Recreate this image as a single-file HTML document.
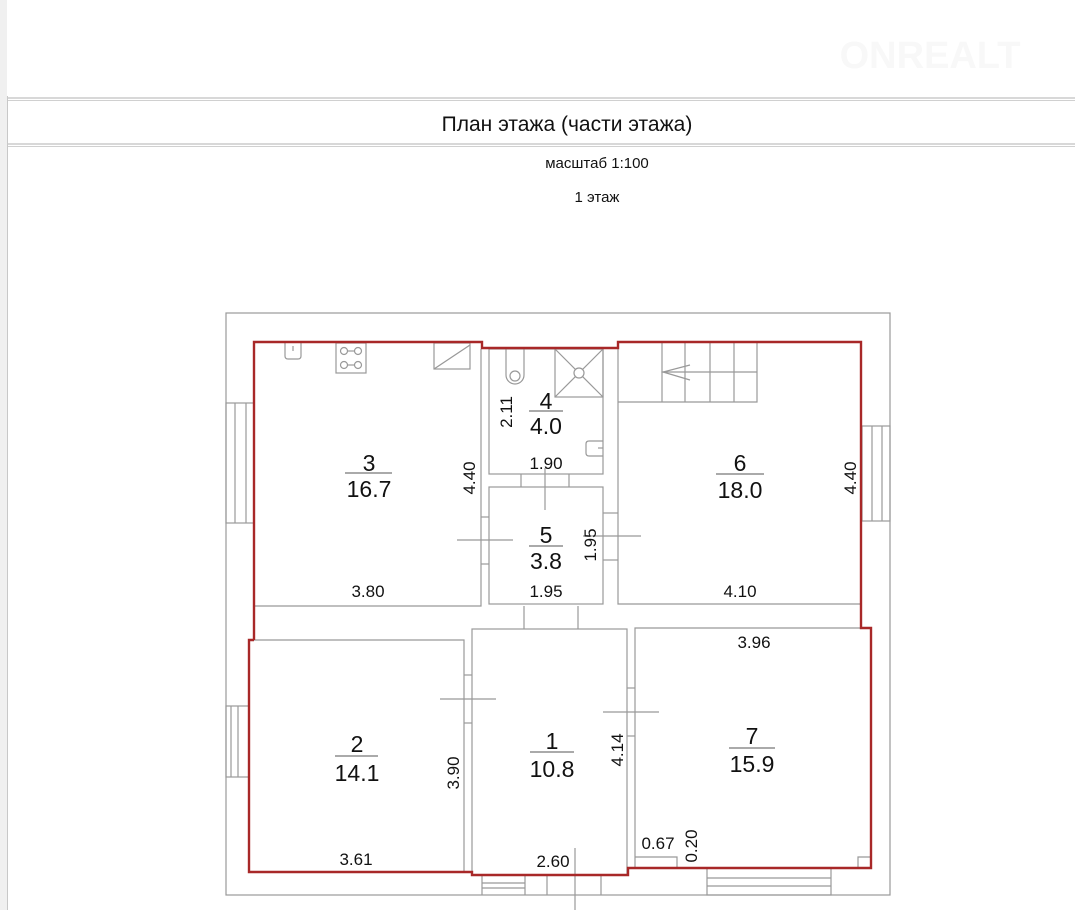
<!DOCTYPE html>
<html><head><meta charset="utf-8"><style>
html,body{margin:0;padding:0;background:#fff;}
svg{display:block;font-family:"Liberation Sans",Arial,sans-serif;}
</style></head><body>
<svg width="1075" height="910" viewBox="0 0 1075 910" xmlns="http://www.w3.org/2000/svg">
<rect x="0" y="0" width="7" height="910" fill="#f0f0f0"/>
<line x1="7.5" y1="96" x2="7.5" y2="910" stroke="#c8c8c8" stroke-width="1"/>
<g stroke="#b0b0b0" stroke-width="1">
<line x1="8" y1="98" x2="1075" y2="98"/><line x1="8" y1="100.5" x2="1075" y2="100.5" stroke="#d0d0d0"/>
<line x1="8" y1="144" x2="1075" y2="144"/><line x1="8" y1="146.5" x2="1075" y2="146.5" stroke="#d0d0d0"/>
</g>
<text x="567" y="131" font-size="21" text-anchor="middle" fill="#111">План этажа (части этажа)</text>
<text x="597" y="168" font-size="15" text-anchor="middle" fill="#111">масштаб 1:100</text>
<text x="597" y="202" font-size="15" text-anchor="middle" fill="#111">1 этаж</text>
<text x="930" y="68" font-size="38" font-weight="bold" text-anchor="middle" fill="#f8f8f8">ONREALT</text>

<g fill="none" stroke="#999" stroke-width="1.2">
<rect x="226" y="313" width="664" height="582"/>
<polyline points="255,606 481,606 481,349"/>
<rect x="489" y="349" width="114" height="125"/>
<rect x="489" y="487" width="114" height="117"/>
<polyline points="618,343 618,604 861,604"/>
<polyline points="249,640 464,640 464,872"/>
<rect x="472" y="629" width="155" height="246"/>
<polyline points="635,868 635,628 871,628"/>
<line x1="524" y1="606" x2="524" y2="629"/><line x1="578" y1="606" x2="578" y2="629"/>
<line x1="521" y1="474" x2="521" y2="487"/><line x1="569" y1="474" x2="569" y2="487"/>
<line x1="481" y1="517" x2="489" y2="517"/><line x1="481" y1="564" x2="489" y2="564"/>
<line x1="603" y1="513" x2="618" y2="513"/><line x1="603" y1="560" x2="618" y2="560"/>
<line x1="464" y1="675" x2="472" y2="675"/><line x1="464" y1="723" x2="472" y2="723"/>
<line x1="627" y1="688" x2="635" y2="688"/><line x1="627" y1="736" x2="635" y2="736"/>
<line x1="457" y1="540" x2="513" y2="540"/><line x1="545" y1="468" x2="545" y2="510"/>
<line x1="583" y1="536" x2="641" y2="536"/>
<line x1="440" y1="699" x2="496" y2="699"/>
<line x1="603" y1="712" x2="659" y2="712"/>
<line x1="575" y1="848" x2="575" y2="910"/>
<rect x="226" y="403" width="28" height="120"/><line x1="235" y1="403" x2="235" y2="523"/><line x1="246" y1="403" x2="246" y2="523"/>
<rect x="226" y="706" width="23" height="71"/><line x1="231" y1="706" x2="231" y2="777"/><line x1="238" y1="706" x2="238" y2="777"/>
<rect x="862" y="426" width="28" height="95"/><line x1="872" y1="426" x2="872" y2="521"/><line x1="882" y1="426" x2="882" y2="521"/>
<line x1="482" y1="875" x2="482" y2="895"/><line x1="525" y1="875" x2="525" y2="895"/>
<line x1="482" y1="883" x2="525" y2="883"/><line x1="482" y1="888" x2="525" y2="888"/>
<line x1="547" y1="875" x2="547" y2="895"/><line x1="601" y1="875" x2="601" y2="895"/>
<rect x="707" y="868" width="124" height="27"/><line x1="707" y1="878" x2="831" y2="878"/><line x1="707" y1="886" x2="831" y2="886"/>
<path d="M285,343 V356 Q285,359 288,359 H298 Q301,359 301,356 V343"/><line x1="293" y1="346" x2="293" y2="351"/>
<rect x="336" y="343" width="30" height="30"/>
<circle cx="344" cy="351" r="3.5"/><circle cx="358" cy="351" r="3.5"/><circle cx="344" cy="365" r="3.5"/><circle cx="358" cy="365" r="3.5"/>
<line x1="347" y1="351" x2="355" y2="351"/><line x1="347" y1="365" x2="355" y2="365"/>
<rect x="434" y="343" width="36" height="26"/><line x1="434" y1="369" x2="470" y2="345"/>
<path d="M506,349 V375 A9,9 0 0 0 524,375 V349"/><circle cx="515" cy="376" r="5"/>
<rect x="555" y="349" width="48" height="48"/><line x1="555" y1="349" x2="603" y2="397"/><line x1="603" y1="349" x2="555" y2="397"/><circle cx="579" cy="373" r="5" fill="#fff"/>
<path d="M603,441 H589 Q586,441 586,444 V453 Q586,456 589,456 H603"/><line x1="598" y1="448" x2="603" y2="448"/>
<polyline points="618,402 757,402 757,343"/>
<line x1="662" y1="343" x2="662" y2="402"/><line x1="685" y1="343" x2="685" y2="402"/>
<line x1="710" y1="343" x2="710" y2="402"/><line x1="734" y1="343" x2="734" y2="402"/>
<line x1="662" y1="372" x2="757" y2="372"/>
<polyline points="690,365 663,372 690,380"/>
<polyline points="635,857 677,857 677,868"/>
<polyline points="858,868 858,857 871,857"/>
</g>
<polyline fill="none" stroke="#a82828" stroke-width="2.4" points="254,640 254,342 482,342 482,348 618,348 618,342 861,342 861,628 871,628 871,868 628,868 628,875 472,875 472,872 249,872 249,640 254,640"/>

<g fill="#111" text-anchor="middle" font-size="23">
<text x="369" y="471">3</text><text x="369" y="497">16.7</text>
<text x="546" y="409">4</text><text x="546" y="434">4.0</text>
<text x="546" y="543">5</text><text x="546" y="569">3.8</text>
<text x="740" y="471">6</text><text x="740" y="498">18.0</text>
<text x="357" y="752">2</text><text x="357" y="781">14.1</text>
<text x="552" y="749">1</text><text x="552" y="777">10.8</text>
<text x="752" y="744">7</text><text x="752" y="772">15.9</text>
</g>
<g stroke="#555" stroke-width="1">
<line x1="345" y1="473" x2="392" y2="473"/><line x1="529" y1="411" x2="563" y2="411"/>
<line x1="529" y1="546" x2="563" y2="546"/><line x1="716" y1="474" x2="764" y2="474"/>
<line x1="335" y1="756" x2="378" y2="756"/><line x1="530" y1="752" x2="574" y2="752"/>
<line x1="729" y1="748" x2="775" y2="748"/>
</g>
<g fill="#111" text-anchor="middle" font-size="17">
<text x="546" y="469">1.90</text>
<text x="368" y="597">3.80</text><text x="546" y="597">1.95</text><text x="740" y="597">4.10</text>
<text x="754" y="648">3.96</text>
<text x="356" y="865">3.61</text><text x="553" y="867">2.60</text><text x="658" y="849">0.67</text>
<text transform="translate(475,478) rotate(-90)">4.40</text>
<text transform="translate(512,412) rotate(-90)">2.11</text>
<text transform="translate(596,545) rotate(-90)">1.95</text>
<text transform="translate(856,478) rotate(-90)">4.40</text>
<text transform="translate(459,773) rotate(-90)">3.90</text>
<text transform="translate(623,750) rotate(-90)">4.14</text>
<text transform="translate(697,846) rotate(-90)">0.20</text>
</g>
</svg>
</body></html>
